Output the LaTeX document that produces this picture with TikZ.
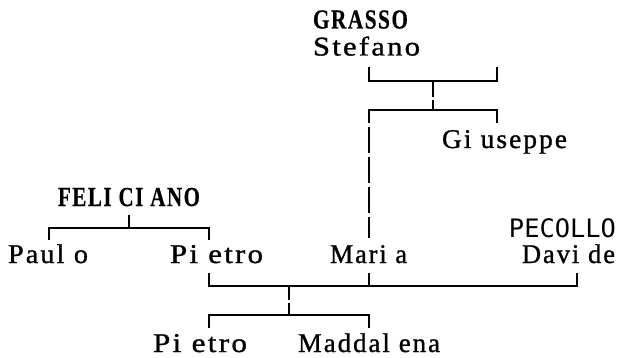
\documentclass[tikz,border=0pt]{standalone}
\usepackage{fontspec}
\setmainfont{Liberation Serif}[FakeBold=1.1]
\newfontfamily\boldserif{Liberation Serif Bold}[FakeBold=0.4]
\newfontfamily\sansmono{DejaVu Sans Mono}
\usepackage{graphicx}
% letters spaced out, with the extra gap after i, l and I seen in the reference
\def\nmA#1{\ifx#1\relax\else#1\kern2pt\ifx#1i\kern7pt\fi\ifx#1l\kern7pt\fi\ifx#1I\kern7pt\fi\expandafter\nmA\fi}
\newcommand\nm[2]{\resizebox{#2}{\height}{\nmA#1\relax\unkern}}
\tikzset{
  person/.style={anchor=base west, inner sep=0pt, outer sep=0pt, font=\fontsize{27}{30}\selectfont},
  surname/.style={person, font=\fontsize{27.5}{30}\selectfont\boldserif},
  sansname/.style={anchor=base east, inner sep=0pt, outer sep=0pt, font=\fontsize{25.4}{28}\selectfont\sansmono},
  link/.style={line width=2pt, line join=miter, line cap=butt}
}
\begin{document}
\begin{tikzpicture}[x=1pt,y=-1pt]
\useasboundingbox (0,0) rectangle (620,358);
% names
\node[surname] (grasso) at (313,28.5) {\nm{GRASSO}{95pt}};
\node[person] (stefano) at (313,55.5) {\nm{Stefano}{107pt}};
\node[person] (giuseppe) at (442,148) {\nm{Giuseppe}{125pt}};
\node[surname] (feliciano) at (58,206) {\nm{FELICIANO}{142pt}};
\node[sansname] (pecollo) at (616,237) {PECOLLO};
\node[person] (paulo) at (8,263) {\nm{Paulo}{80pt}};
\node[person] (pietro) at (170,263) {\nm{Pietro}{93pt}};
\node[person] (maria) at (330,263) {\nm{Maria}{77pt}};
\node[person] (davide) at (522,263) {\nm{Davide}{93pt}};
\node[person] (pietrob) at (153,352) {\nm{Pietro}{94pt}};
\node[person] (maddalena) at (298,352) {\nm{Maddalena}{142pt}};
% junction coordinates
\coordinate (sL) at (369,67);  \coordinate (sLb) at (369,81);
\coordinate (sR) at (497,67);  \coordinate (sRb) at (497,81);
\coordinate (sM) at (433,81);  \coordinate (sMa) at (433,97);
\coordinate (sMb) at (433,100); \coordinate (cM) at (433,110);
\coordinate (cL) at (369,110); \coordinate (cR) at (497,110);
\coordinate (gT) at (497,123); \coordinate (mA) at (369,123);
\coordinate (m1) at (369,127); \coordinate (m2) at (369,153);
\coordinate (m3) at (369,157); \coordinate (m4) at (369,183);
\coordinate (m5) at (369,187); \coordinate (m6) at (369,213);
\coordinate (m7) at (369,217); \coordinate (mT) at (369,238);
\coordinate (fL) at (49,240); \coordinate (fLb) at (49,228);
\coordinate (fR) at (209,240); \coordinate (fRb) at (209,228);
\coordinate (fM) at (129,215); \coordinate (fMb) at (129,228);
\coordinate (pB) at (209,273); \coordinate (pBb) at (209,286);
\coordinate (mB) at (369,273); \coordinate (mBb) at (369,286);
\coordinate (dB) at (577,273); \coordinate (dBb) at (577,286);
\coordinate (bM) at (289,286); \coordinate (bMa) at (289,300);
\coordinate (bMb) at (289,303); \coordinate (bM2) at (289,315);
\coordinate (kL) at (209,315); \coordinate (kLb) at (209,328);
\coordinate (kR) at (369,315); \coordinate (kRb) at (369,328);
% GRASSO family
\draw[link] (sL) -- (sLb) -- (sRb) -- (sR);
\draw[link] (sM) -- (sMa);
\draw[link] (sMb) -- (cM);
\draw[link] (mA) -- (cL) -- (cR) -- (gT);
\draw[link] (m1) -- (m2);
\draw[link] (m3) -- (m4);
\draw[link] (m5) -- (m6);
\draw[link] (m7) -- (mT);
% FELICIANO family
\draw[link] (fL) -- (fLb) -- (fRb) -- (fR);
\draw[link] (fM) -- (fMb);
% marriage and children
\draw[link] (pB) -- (pBb) -- (dBb) -- (dB);
\draw[link] (mB) -- (mBb);
\draw[link] (bM) -- (bMa);
\draw[link] (bMb) -- (bM2);
\draw[link] (kLb) -- (kL) -- (kR) -- (kRb);
\end{tikzpicture}
\end{document}
